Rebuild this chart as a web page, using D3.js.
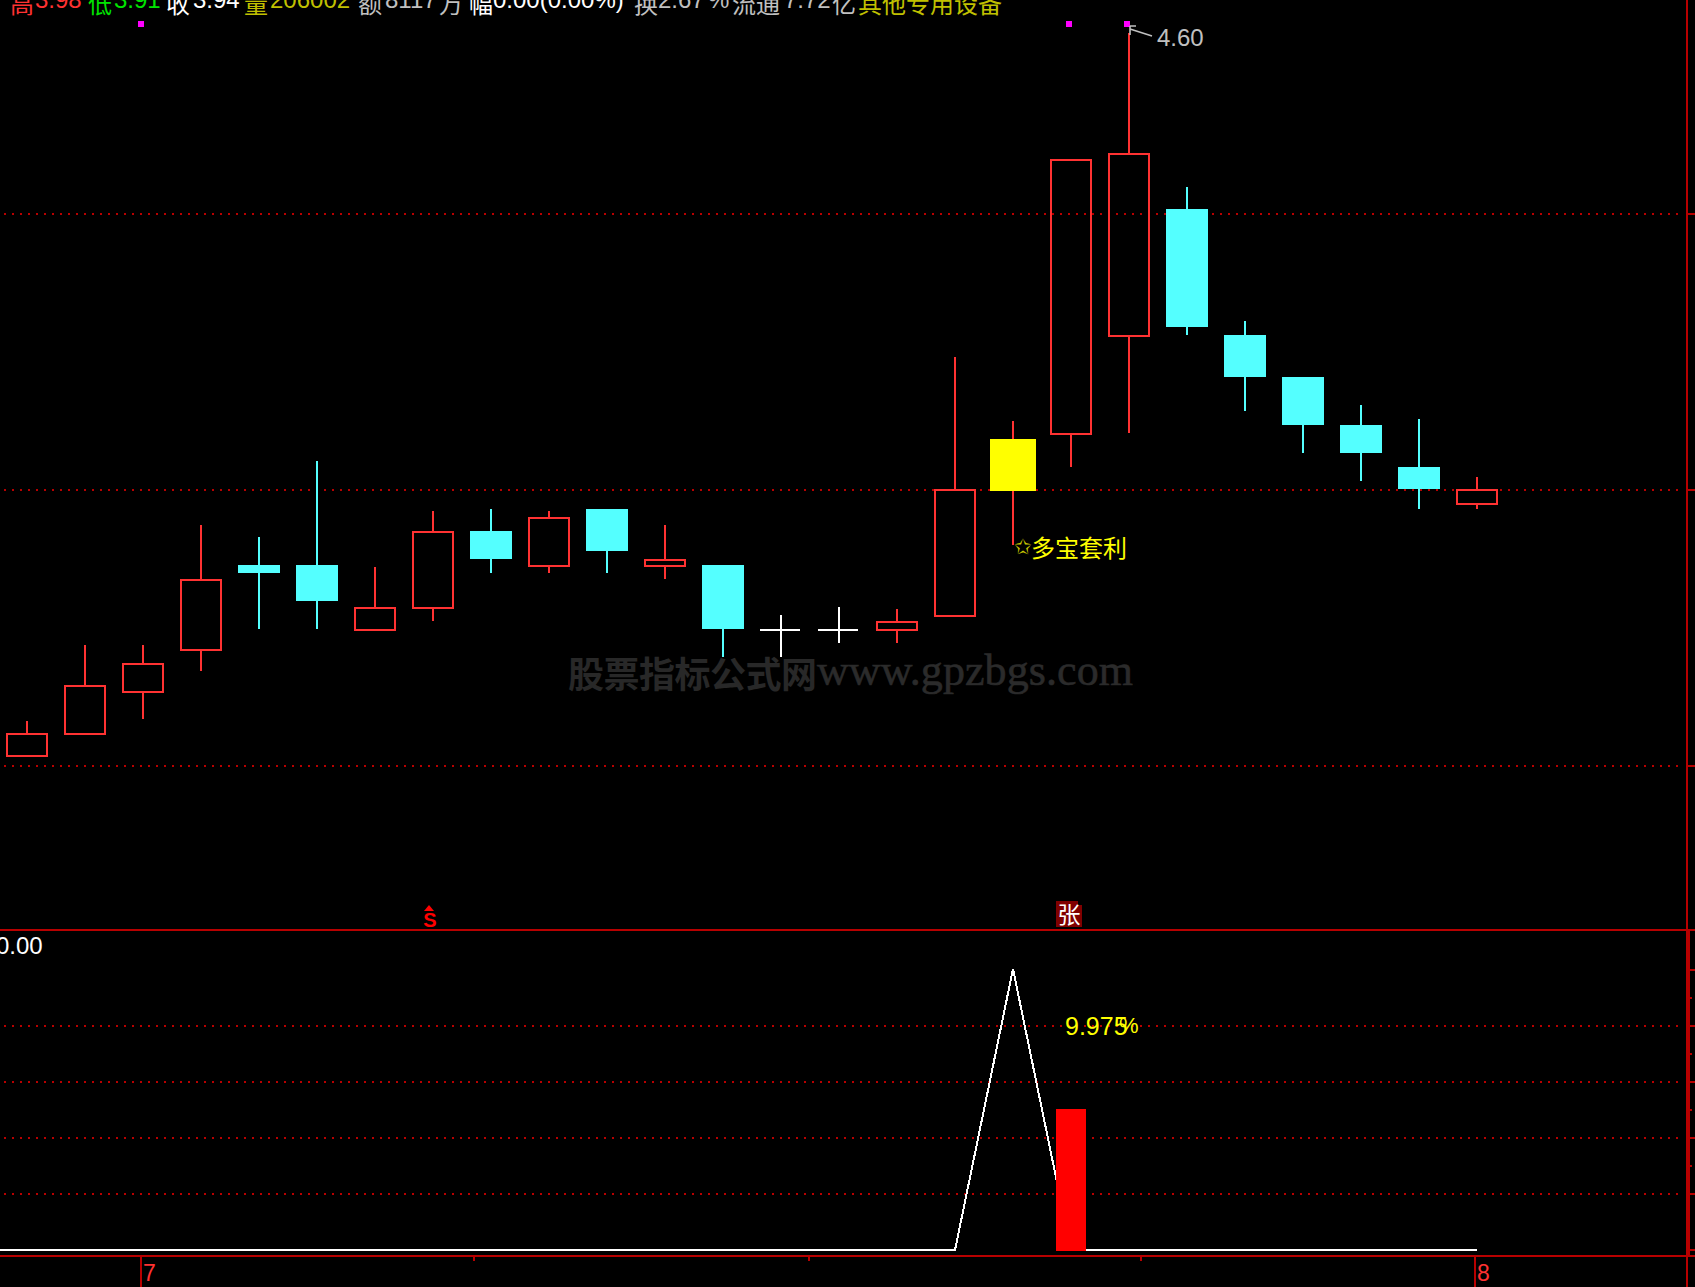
<!DOCTYPE html>
<html><head><meta charset="utf-8">
<script src="https://cdn.jsdelivr.net/npm/d3@7/dist/d3.min.js"></script>
<style>
html,body{margin:0;padding:0;background:#000;overflow:hidden}
svg{display:block}
text{font-family:"Liberation Sans",sans-serif}
.cjk{font-family:"Noto Sans CJK SC",sans-serif}
</style></head><body>
<script>
// ---------- data ----------
const opens  = [3.566,3.597,3.657,3.717,3.840,3.840,3.746,3.777,3.889,3.837,3.920,3.837,3.840,3.747,3.747,3.746,3.766,3.946,4.026,4.166,4.349,4.169,4.109,4.040,3.980,3.926];
const closes = [3.600,3.669,3.700,3.820,3.829,3.789,3.780,3.889,3.849,3.909,3.860,3.849,3.749,3.747,3.747,3.760,3.949,4.020,4.420,4.429,4.180,4.109,4.040,4.000,3.949,3.949];
const highs  = [3.617,3.726,3.726,3.897,3.880,3.989,3.837,3.917,3.920,3.917,3.920,3.897,3.840,3.769,3.780,3.777,4.137,4.046,4.420,4.600,4.380,4.189,4.109,4.069,4.049,3.966];
const lows   = [3.566,3.597,3.620,3.689,3.749,3.749,3.746,3.760,3.829,3.829,3.829,3.820,3.709,3.709,3.729,3.729,3.766,3.869,3.980,4.029,4.169,4.060,4.000,3.960,3.920,3.920];
const signalBar = 17;               // the yellow bar
const markerBars = [2,18,19];       // magenta squares
const priceGrid = [4.341,3.947,3.553];
const indicatorIndex = [-1,0,1,2,3,4,5,6,7,8,9,10,11,12,13,14,15,16,17,18,19,20,21,22,23,24,25];
const indicatorValues = [0,0,0,0,0,0,0,0,0,0,0,0,0,0,0,0,0,0,19.9,0,0,0,0,0,0,0,0];
const barIndex = 18, barValue = 9.975;
const lowerGrid = [3.97,7.94,11.91,15.89];
const lowerMajor = [0,3.97,7.94,11.91,15.89,19.86];
const lowerMinor = [5.96,9.93,13.9,17.87];
const monthTicks = [1.966,24.966];
const monthLabels = ["7","8"];
const minorTicks = [7.71,13.48,19.21];
const headerTexts = ["高","3.98","低","3.91","收","3.94","量","206002","额","8117","万","幅","0.00(0.00%)","换","2.67","%","流通","7.72","亿","其他专用设备"];
const headerCjk   = [1,0,1,0,1,0,1,0,1,0,1,1,0,1,0,0,1,0,1,1];
const headerColors= ["#ff3232","#ff3232","#00e400","#00e400","#fff","#fff","#c0c000","#c0c000","#c0c0c0","#c0c0c0","#c0c0c0","#fff","#fff","#c0c0c0","#c0c0c0","#c0c0c0","#c0c0c0","#c0c0c0","#c0c0c0","#c0c000"];
const headerLeft  = [10,35,88,114,166,193,244,270,358,385,439,469,493,634,658,708,732,784,832,858];

// ---------- layout ----------
const W=1695,H=1287, RED="#ff3232", DARK="#b80000", CYAN="#54ffff", YEL="#ffff00";
const svg=d3.select("body").append("svg").attr("width",W).attr("height",H).attr("viewBox",`0 0 ${W} ${H}`);
svg.append("rect").attr("width",W).attr("height",H).attr("fill","#000");

const x=d3.scaleLinear().domain([0,25]).range([27,1477]);
const y=d3.scaleLinear().domain([4.6,3.6]).rangeRound([33,733]);
const y2=d3.scaleLinear().domain([0,20]).rangeRound([1250,968]);
const crisp=s=>s.attr("shape-rendering","crispEdges");

// grids
const dots=(sel,vals,sc)=>crisp(sel.append("g").selectAll("line").data(vals).join("line")
  .attr("x1",4).attr("x2",1679).attr("y1",d=>sc(d)).attr("y2",d=>sc(d))
  .attr("stroke",DARK).attr("stroke-width",2).attr("stroke-dasharray","2 6"));
dots(svg,priceGrid,y); dots(svg,lowerGrid,y2);

// watermark
svg.append("text").attr("class","cjk").attr("x",568).attr("y",688).attr("font-size",36).attr("font-weight",700)
  .attr("fill","#282828").attr("textLength",249).text("股票指标公式网");
svg.append("text").attr("x",817).attr("y",685).attr("font-size",44).attr("fill","#2b2b2b")
  .attr("stroke","#2b2b2b").attr("stroke-width",0.6)
  .style("font-family","'Liberation Serif',serif").attr("textLength",316).text("www.gpzbgs.com");

// frame
const frame=svg.append("g").attr("stroke",DARK).attr("stroke-width",2);
crisp(frame.append("line").attr("x1",0).attr("x2",W).attr("y1",930).attr("y2",930));
crisp(frame.append("line").attr("x1",0).attr("x2",W).attr("y1",1256).attr("y2",1256));
crisp(frame.append("line").attr("x1",1687).attr("x2",1687).attr("y1",0).attr("y2",H));
crisp(frame.append("line").attr("x1",1688).attr("x2",1688).attr("y1",930).attr("y2",1256).attr("stroke-width",4));

// axes
function styleAxis(g){
  g.select(".domain").remove();
  g.selectAll("line").attr("stroke",DARK).attr("stroke-width",2).attr("shape-rendering","crispEdges");
}
svg.append("g").attr("transform","translate(1688,0)")
  .call(d3.axisRight(y).tickValues(priceGrid).tickSize(7).tickFormat("").offset(0)).call(styleAxis);
svg.append("g").attr("transform","translate(1690,0)")
  .call(d3.axisRight(y2).tickValues(lowerMajor).tickSize(5).tickFormat("").offset(0)).call(styleAxis);
svg.append("g").attr("transform","translate(1690,0)")
  .call(d3.axisRight(y2).tickValues(lowerMinor).tickSize(2).tickFormat("").offset(0)).call(styleAxis);
svg.append("g").attr("transform","translate(0,1256)")
  .call(d3.axisBottom(x).tickValues(minorTicks).tickSize(5).tickFormat("").offset(0)).call(styleAxis);
const mAxis=svg.append("g").attr("transform","translate(0,1256)")
  .call(d3.axisBottom(x).tickValues(monthTicks).tickSize(31).tickFormat((d,i)=>monthLabels[i]).offset(0)).call(styleAxis);
mAxis.selectAll("text").attr("x",2).attr("y",25).attr("dy",0).attr("text-anchor","start")
  .attr("fill",RED).attr("font-size",23).style("font-family","'Liberation Sans',sans-serif");

// candles
const candles=d3.range(opens.length).map(i=>({i,o:opens[i],c:closes[i],h:highs[i],l:lows[i]}));
const kind=d=>d.i===signalBar?"sig":d.c>d.o?"up":d.c<d.o?"down":"flat";
const wickCol=d=>({sig:RED,up:RED,down:CYAN,flat:"#fff"})[kind(d)];
const cg=svg.append("g");
const bodyTop=d=>y(Math.max(d.o,d.c)), bodyBot=d=>y(Math.min(d.o,d.c));
crisp(cg.selectAll("line.hi").data(candles).join("line").attr("class","hi")
  .attr("x1",d=>x(d.i)).attr("x2",d=>x(d.i)).attr("y1",d=>y(d.h)).attr("y2",bodyTop)
  .attr("stroke",wickCol).attr("stroke-width",2));
crisp(cg.selectAll("line.lo").data(candles).join("line").attr("class","lo")
  .attr("x1",d=>x(d.i)).attr("x2",d=>x(d.i)).attr("y1",bodyBot).attr("y2",d=>y(d.l))
  .attr("stroke",wickCol).attr("stroke-width",2));
crisp(cg.selectAll("rect.up").data(candles.filter(d=>kind(d)==="up")).join("rect").attr("class","up")
  .attr("x",d=>x(d.i)-20).attr("width",40).attr("y",d=>bodyTop(d)+1).attr("height",d=>bodyBot(d)-bodyTop(d)-2)
  .attr("fill","none").attr("stroke",RED).attr("stroke-width",2));
crisp(cg.selectAll("rect.down").data(candles.filter(d=>kind(d)==="down")).join("rect").attr("class","down")
  .attr("x",d=>x(d.i)-21).attr("width",42).attr("y",bodyTop).attr("height",d=>bodyBot(d)-bodyTop(d))
  .attr("fill",CYAN));
crisp(cg.selectAll("rect.sig").data(candles.filter(d=>kind(d)==="sig")).join("rect").attr("class","sig")
  .attr("x",d=>x(d.i)-23).attr("width",46).attr("y",bodyTop).attr("height",d=>bodyBot(d)-bodyTop(d))
  .attr("fill",YEL));
crisp(cg.selectAll("line.flat").data(candles.filter(d=>kind(d)==="flat")).join("line").attr("class","flat")
  .attr("x1",d=>x(d.i)-21).attr("x2",d=>x(d.i)+19).attr("y1",d=>y(d.o)).attr("y2",d=>y(d.o))
  .attr("stroke","#fff").attr("stroke-width",2));

// magenta markers
crisp(svg.append("g").selectAll("rect").data(markerBars).join("rect")
  .attr("x",d=>x(d)-5).attr("y",21).attr("width",6).attr("height",6).attr("fill","#ff00ff"));

// high annotation
const hx=x(19), hy=y(highs[19]);
svg.append("path").attr("d",`M${hx+23},${hy+3}L${hx+1},${hy-4}M${hx+1},${hy-7}h6M${hx+1},${hy-7}v9`)
  .attr("fill","none").attr("stroke","#c0c0c0").attr("stroke-width",1.6);
svg.append("text").attr("x",1157).attr("y",46).attr("font-size",24).attr("fill","#c0c0c0").text(d3.format(".2f")(highs[19]));

// signal text
svg.append("text").attr("x",1014).attr("y",554).attr("font-size",21).attr("fill","#c8c800")
  .style("font-family","'DejaVu Sans',sans-serif").text("✩");
svg.append("text").attr("class","cjk").attr("x",1031).attr("y",557).attr("font-size",24).attr("fill",YEL).text("多宝套利");

// S signal
svg.append("path").attr("d","M424,911L429,905L434,911Z").attr("fill","#f00");
svg.append("text").attr("x",430).attr("y",927).attr("text-anchor","middle").attr("font-size",20).attr("font-weight",700).attr("fill","#f00").text("S");

// 张 badge
crisp(svg.append("rect").attr("x",1056).attr("y",901).attr("width",22).attr("height",26).attr("fill","#800000"));
crisp(svg.append("rect").attr("x",1056).attr("y",905).attr("width",26).attr("height",22).attr("fill","#800000"));
svg.append("text").attr("class","cjk").attr("x",1069).attr("y",923).attr("text-anchor","middle").attr("font-size",23).attr("fill","#fff").text("张");

// indicator line + bar
const line=d3.line().x(d=>x(d[0])).y(d=>y2(d[1]));
svg.append("path").datum(indicatorIndex.map((k,i)=>[k,indicatorValues[i]])).attr("d",line)
  .attr("fill","none").attr("stroke","#fff").attr("stroke-width",2).attr("stroke-linejoin","bevel").attr("shape-rendering","crispEdges");
crisp(svg.append("rect").attr("x",x(barIndex)-15).attr("width",30).attr("y",y2(barValue)).attr("height",y2(0)-y2(barValue)+1).attr("fill","#f00"));

// indicator labels
svg.append("text").attr("x",-4).attr("y",954).attr("font-size",24).attr("fill","#fff").text("0.00");
svg.append("text").attr("x",1065).attr("y",1035).attr("font-size",25).attr("fill",YEL).text(barValue);
svg.append("text").attr("x",1119).attr("y",1033).attr("font-size",22).attr("fill",YEL).text("%");

// header
svg.append("g").selectAll("text").data(headerTexts).join("text")
  .attr("class",(d,i)=>headerCjk[i]?"cjk":null)
  .attr("x",(d,i)=>headerLeft[i]).attr("y",(d,i)=>headerCjk[i]?13:8)
  .attr("font-size",24).attr("fill",(d,i)=>headerColors[i]).text(d=>d);
</script>
</body></html>
